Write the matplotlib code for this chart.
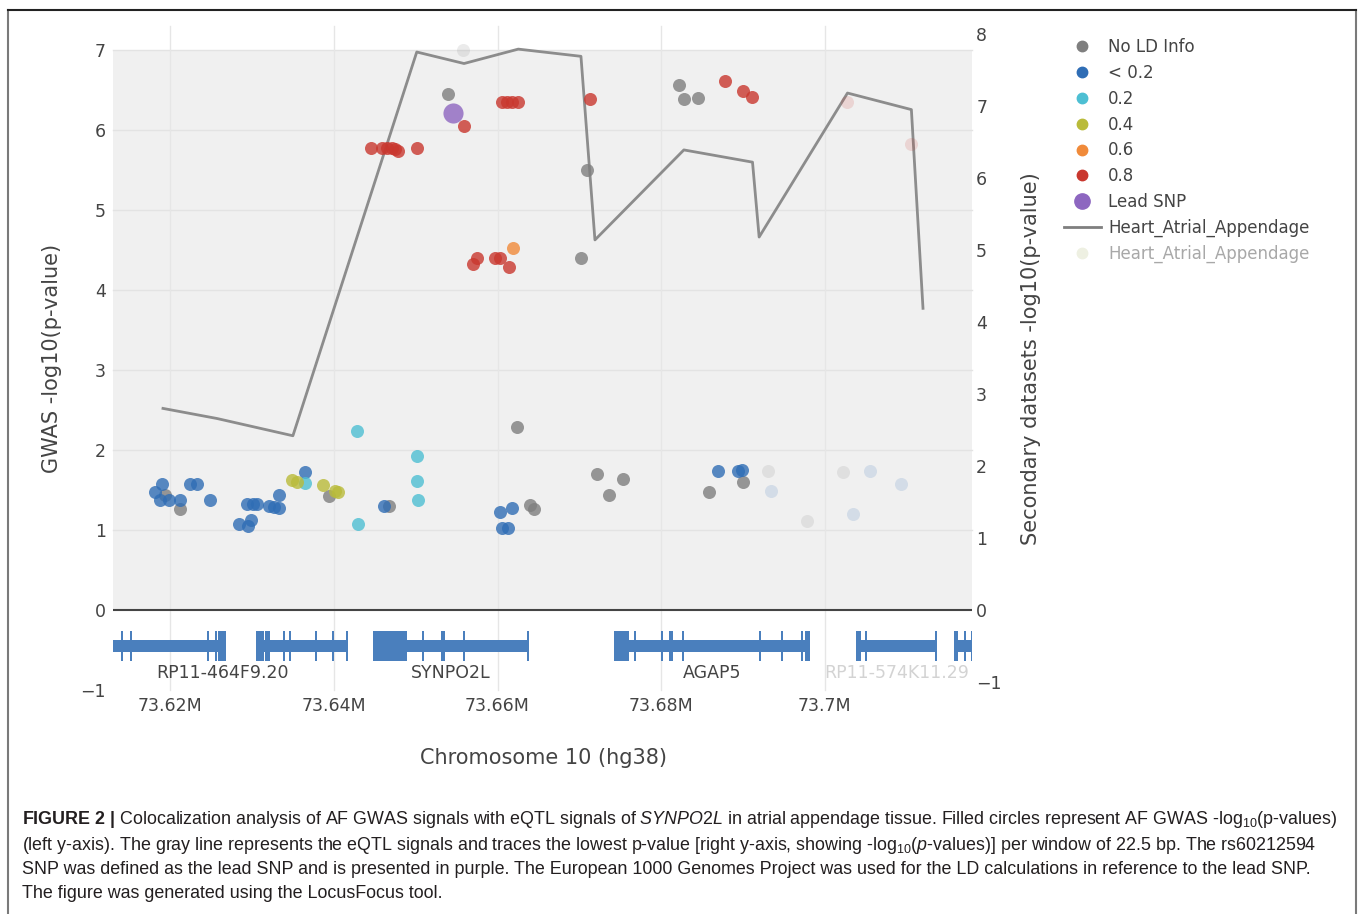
import matplotlib
matplotlib.use("Agg")
import matplotlib.pyplot as plt
import matplotlib.transforms as mtransforms
from matplotlib.patches import Rectangle
from matplotlib.lines import Line2D

plt.rcParams['mathtext.fontset'] = 'custom'
plt.rcParams['mathtext.rm'] = 'Liberation Sans'
plt.rcParams['mathtext.it'] = 'Liberation Sans:italic'
plt.rcParams['mathtext.bf'] = 'Liberation Sans:bold'

# GWAS SNPs: position (Mb, chr10 hg38) and -log10(p), split by LD with lead SNP
noinfo_pos = [73.61939, 73.62122, 73.63946, 73.64679, 73.66235, 73.66397, 73.66446,
              73.67219, 73.67362, 73.67537, 73.68587, 73.68995, 73.65399, 73.67097,
              73.67024, 73.68217, 73.68278, 73.68453]
noinfo_logp = [1.44, 1.26, 1.42, 1.30, 2.29, 1.31, 1.26, 1.70, 1.44, 1.64, 1.47, 1.60,
               6.45, 5.50, 4.40, 6.56, 6.39, 6.40]

lt02_pos = [73.61817, 73.61899, 73.61878, 73.61979, 73.62122, 73.62244, 73.62326,
            73.62489, 73.62846, 73.62956, 73.62986, 73.62937, 73.63017, 73.63059,
            73.63201, 73.63262, 73.63323, 73.63335, 73.63645, 73.64614, 73.66031,
            73.66174, 73.66051, 73.66132, 73.68690, 73.68941, 73.68983]
lt02_logp = [1.47, 1.58, 1.38, 1.38, 1.38, 1.575, 1.575, 1.38, 1.08, 1.05, 1.12, 1.33,
             1.325, 1.32, 1.30, 1.29, 1.28, 1.44, 1.72, 1.30, 1.22, 1.27, 1.025, 1.025,
             1.74, 1.74, 1.75]

ld02_pos = [73.64280, 73.64300, 73.63653, 73.65021, 73.65021, 73.65025]
ld02_logp = [2.24, 1.07, 1.59, 1.925, 1.61, 1.38]

ld04_pos = [73.63486, 73.63548, 73.63865, 73.64015, 73.64056]
ld04_logp = [1.62, 1.60, 1.56, 1.49, 1.48]

ld06_pos = [73.66186]
ld06_logp = [4.52]

ld08_pos = [73.64451, 73.64586, 73.64647, 73.64708, 73.64748, 73.64788, 73.65013,
            73.65591, 73.66051, 73.66113, 73.66174, 73.66254, 73.67130, 73.68779,
            73.69002, 73.69112, 73.65705, 73.65753, 73.65970, 73.66031, 73.66144]
ld08_logp = [5.78, 5.77, 5.77, 5.77, 5.76, 5.74, 5.78, 6.05, 6.35, 6.35, 6.35, 6.35,
             6.39, 6.61, 6.49, 6.41, 4.325, 4.40, 4.40, 4.40, 4.29]

lead_pos = [73.65460]
lead_logp = [6.21]

# SNPs shown faded
faded_noinfo_pos = [73.65580, 73.69308, 73.69789, 73.70224]
faded_noinfo_logp = [7.0, 1.74, 1.11, 1.72]
faded_lt02_pos = [73.69349, 73.70558, 73.70937, 73.70346]
faded_lt02_logp = [1.49, 1.74, 1.575, 1.20]
faded_ld08_pos = [73.70278, 73.71059]
faded_ld08_logp = [6.35, 5.82]

# eQTL (Heart_Atrial_Appendage) lowest p per window
eqtl_pos = [73.61911, 73.62570, 73.63499, 73.65013, 73.65591, 73.66254, 73.67020,
            73.67191, 73.68278, 73.69117, 73.69198, 73.70278, 73.71059, 73.71201]
eqtl_logp = [2.80, 2.66, 2.42, 7.75, 7.59, 7.79, 7.69, 5.14, 6.39, 6.22, 5.18, 7.18,
             6.95, 4.19]

# genes
gene_names = ["RP11-464F9.20", "SYNPO2L", "AGAP5", "RP11-574K11.29", ""]
gene_label_colors = ["#444444", "#444444", "#444444", "#d3d3d3", "#444444"]
gene_bodies = [[(73.6110, 73.62684), (73.63050, 73.64174)],
               [(73.64479, 73.66385)],
               [(73.67423, 73.69817)],
               [(73.70379, 73.71368)],
               [(73.71576, 73.7210)]]
gene_exons = [
    [(73.61402, 73.61427), (73.61511, 73.61536), (73.62452, 73.62477), (73.62545, 73.62570),
     (73.62580, 73.62684), (73.63050, 73.63150), (73.63162, 73.63221), (73.63380, 73.63405),
     (73.63454, 73.63479), (73.63771, 73.63796), (73.63979, 73.64004), (73.64150, 73.64174)],
    [(73.64479, 73.64895), (73.65078, 73.65103), (73.65310, 73.65359), (73.65579, 73.65604),
     (73.66360, 73.66385)],
    [(73.67423, 73.67606), (73.67668, 73.67693), (73.67997, 73.68022), (73.68095, 73.68144),
     (73.68254, 73.68279), (73.69194, 73.69219), (73.69463, 73.69488), (73.69707, 73.69732),
     (73.69756, 73.69817)],
    [(73.70379, 73.70440), (73.70489, 73.70514), (73.71344, 73.71368)],
    [(73.71576, 73.71625), (73.71698, 73.71723), (73.71784, 73.71809)],
]

x_ticks = [73.62, 73.64, 73.66, 73.68, 73.70]
x_tick_labels = ["73.62M", "73.64M", "73.66M", "73.68M", "73.7M"]
left_ticks = [-1, 0, 1, 2, 3, 4, 5, 6, 7]
right_ticks = [-1, 0, 1, 2, 3, 4, 5, 6, 7, 8]

ld_labels = ["No LD Info", "< 0.2", "0.2", "0.4", "0.6", "0.8"]
ld_colors = ["#7f7f7f", "#2f6db5", "#4dbfd3", "#b9bb3a", "#f08a3a", "#c9372e"]
lead_color = "#8d66c0"
gene_color = "#4a7fbd"
txt = "#444444"

W, H = 1360, 914
fig = plt.figure(figsize=(W / 100, H / 100), dpi=100)
ax = fig.add_axes([113 / W, 1 - 690 / H, 859 / W, 664 / H])
ax2 = ax.twinx()
ax.set_zorder(2)
ax.patch.set_visible(False)

ax.set_xlim(73.613, 73.718)
ax.set_ylim(-1, 7.3)
ax2.set_ylim(-1.1111, 8.1111)

# gray plotting area from 0 to 7 + grid, drawn under both axes
blend_y = mtransforms.blended_transform_factory(ax.transAxes, ax.transData)
blend_x = mtransforms.blended_transform_factory(ax.transData, ax.transAxes)
fig.add_artist(Rectangle((0, 0), 1, 7, transform=blend_y, facecolor="#f0f0f0",
                         edgecolor="none", zorder=-2))
for v in range(1, 8):
    fig.add_artist(Line2D([0, 1], [v, v], transform=blend_y, color="#e3e3e3", lw=1, zorder=-1))
for v in x_ticks:
    fig.add_artist(Line2D([v, v], [0, 1], transform=blend_x, color="#e6e6e6", lw=1, zorder=-1))

ax.axhline(0, color="#444444", lw=1.5, zorder=1)

# eQTL line on right axis
ax2.plot(eqtl_pos, eqtl_logp, color="#8c8c8c", lw=2, zorder=2)

# faded SNPs
ax.scatter(faded_noinfo_pos, faded_noinfo_logp, s=88, color=ld_colors[0], alpha=0.15, lw=0, zorder=3)
ax.scatter(faded_lt02_pos, faded_lt02_logp, s=88, color=ld_colors[1], alpha=0.15, lw=0, zorder=3)
ax.scatter(faded_ld08_pos, faded_ld08_logp, s=88, color=ld_colors[5], alpha=0.15, lw=0, zorder=3)

groups = [(noinfo_pos, noinfo_logp), (lt02_pos, lt02_logp), (ld02_pos, ld02_logp),
          (ld04_pos, ld04_logp), (ld06_pos, ld06_logp), (ld08_pos, ld08_logp)]
for (xs, ys), c in zip(groups, ld_colors):
    ax.scatter(xs, ys, s=88, color=c, alpha=0.8, lw=0, zorder=4)
ax.scatter(lead_pos, lead_logp, s=210, color=lead_color, alpha=0.8, lw=0, zorder=5)

# gene track
for name, bodies, exons, lc in zip(gene_names, gene_bodies, gene_exons, gene_label_colors):
    for s, e in bodies:
        ax.add_patch(Rectangle((s, -0.525), e - s, 0.15, facecolor=gene_color, lw=0, zorder=2))
    for s, e in exons:
        ax.add_patch(Rectangle((s, -0.6375), e - s, 0.375, facecolor=gene_color, lw=0, zorder=2))
    if name:
        mid = (bodies[0][0] + bodies[-1][1]) / 2
        ax.text(mid, -0.79, name, ha="center", va="center", fontsize=12.5, color=lc, zorder=3)

for a in (ax, ax2):
    for sp in a.spines.values():
        sp.set_visible(False)
ax.set_xticks(x_ticks)
ax.set_xticklabels(x_tick_labels)
ax.set_yticks(left_ticks)
ax2.set_yticks(right_ticks)
ax.tick_params(axis="both", length=0, labelsize=12.5, labelcolor=txt, pad=5)
ax2.tick_params(axis="y", length=0, labelsize=12.5, labelcolor=txt, pad=3)

fig.text(543 / W, 1 - 758 / H, "Chromosome 10 (hg38)", ha="center", va="center",
         fontsize=15, color=txt)
fig.text(52 / W, 1 - 358 / H, "GWAS -log10(p-value)", ha="center", va="center",
         rotation=90, fontsize=15, color=txt)
fig.text(1031 / W, 1 - 359 / H, "Secondary datasets -log10(p-value)", ha="center",
         va="center", rotation=90, fontsize=15, color=txt)

# legend
handles = [Line2D([], [], ls="none", marker="o", ms=7.5, color=c) for c in ld_colors]
handles.append(Line2D([], [], ls="none", marker="o", ms=11, color=lead_color))
handles.append(Line2D([], [], color="#7f7f7f", lw=2))
handles.append(Line2D([], [], ls="none", marker="o", ms=7.5, color="#eef0e2"))
labels = ld_labels + ["Lead SNP", "Heart_Atrial_Appendage", "Heart_Atrial_Appendage"]
leg = fig.legend(handles, labels, loc="upper left", bbox_to_anchor=(1064 / W, 1 - 38 / H),
                 frameon=False, fontsize=12, labelspacing=0.47, handlelength=2.2,
                 handletextpad=0.45, borderpad=0, borderaxespad=0)
for t in leg.get_texts():
    t.set_color(txt)
leg.get_texts()[-1].set_color("#a8a8a8")

# figure frame
fig.add_artist(Line2D([8 / W, 8 / W], [0, 1 - 10 / H], color="#7a7a7a", lw=1.5))
fig.add_artist(Line2D([1356 / W, 1356 / W], [0, 1 - 10 / H], color="#7a7a7a", lw=1.5))
fig.add_artist(Line2D([8 / W, 1356 / W], [1 - 10 / H, 1 - 10 / H], color="#222222", lw=1.5))

# caption
cap = dict(fontfamily="Liberation Sans", fontsize=12.9, color="#231f20", ha="left", va="center")
caption_lines = [
    r"$\mathbf{FIGURE\ 2\ |}$ Colocalization analysis of AF GWAS signals with eQTL signals of "
    r"$\mathit{SYNPO2L}$ in atrial appendage tissue. Filled circles represent AF GWAS -log$_{10}$(p-values)",
    r"(left y-axis). The gray line represents the eQTL signals and traces the lowest p-value "
    r"[right y-axis, showing -log$_{10}$($\mathit{p}$-values)] per window of 22.5 bp. The rs60212594",
    "SNP was defined as the lead SNP and is presented in purple. The European 1000 Genomes "
    "Project was used for the LD calculations in reference to the lead SNP.",
    "The figure was generated using the LocusFocus tool.",
]
for line, yy in zip(caption_lines, [819, 845, 869, 893]):
    fig.text(22 / W, 1 - yy / H, line, **cap)

fig.savefig("out.png", dpi=100)
